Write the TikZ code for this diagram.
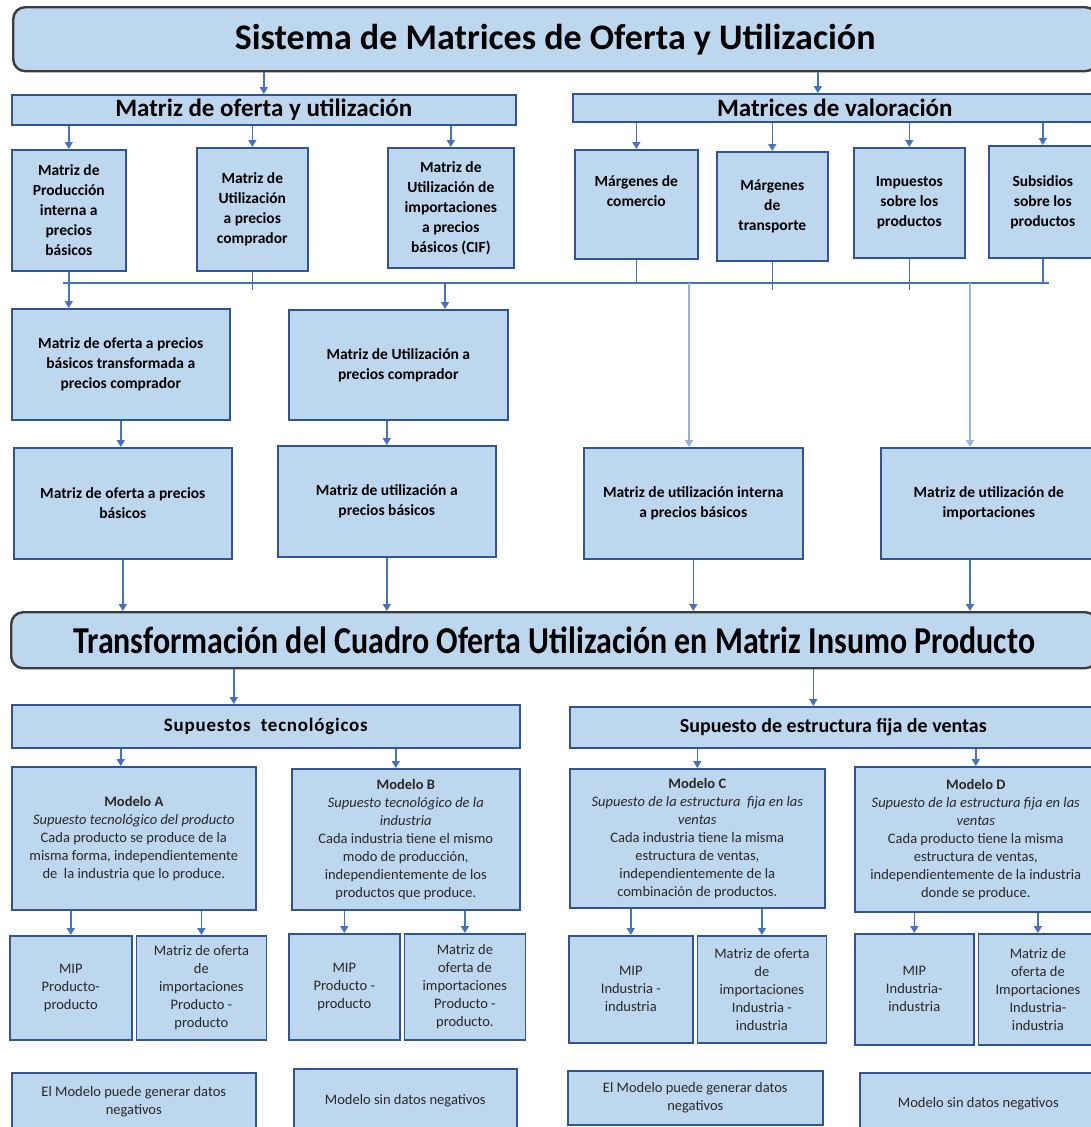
\documentclass[tikz,border=0pt]{standalone}
\usepackage{fontspec}
\setmainfont{Carlito}
\newfontfamily\narrowfont[FakeStretch=0.84]{Carlito}
\usepackage{xcolor}
\usepackage{tikz}
\usetikzlibrary{positioning, shapes, arrows.meta}

\definecolor{boxfill}{RGB}{189,215,238}
\definecolor{boxline}{RGB}{47,85,151}
\definecolor{arrowblue}{RGB}{68,114,196}
\definecolor{fadeblue}{RGB}{150,180,226}
\definecolor{titleline}{RGB}{60,60,60}
\definecolor{textgray}{RGB}{40,40,40}

\begin{document}
\begin{tikzpicture}[x=1pt, y=-1pt, >={Triangle[length=7pt, width=8pt]},
    box/.style={draw=boxline, fill=boxfill, line width=1.6pt, anchor=north west, inner sep=0pt, align=center},
    boldbox/.style={box, font=\fontsize{15.5}{20}\selectfont\bfseries},
    plainbox/.style={box, text=textgray, font=\fontsize{14.5}{18}\selectfont},
    title/.style={box, draw=titleline, line width=2.4pt, rounded corners=12pt},
    header/.style={box, font=\fontsize{25}{30}\selectfont\bfseries},
    link/.style={draw=arrowblue, line width=1.6pt},
    arr/.style={link, ->}]

    \useasboundingbox (0,0) rectangle (1091,1127);
    \clip (0,0) rectangle (1091,1127);

    % Main title
    \node[title, minimum width=1084pt, minimum height=64pt, font=\fontsize{36}{40}\selectfont\bfseries] (title1) at (12,6) {Sistema de Matrices de Oferta y Utilización};

    % Headers
    \node[header, minimum width=504pt, minimum height=30pt] (hdrL) at (11,94) {Matriz de oferta y utilización};
    \node[header, minimum width=524pt, minimum height=28pt] (hdrR) at (572,93) {Matrices de valoración};

    % Supply and use matrices
    \node[boldbox, minimum width=114pt, minimum height=121pt] (b1) at (11,149) {Matriz de\\Producción\\interna a\\precios\\básicos};
    \node[boldbox, minimum width=111pt, minimum height=123pt] (b2) at (196,147) {Matriz de\\Utilización\\a precios\\comprador};
    \node[boldbox, minimum width=126pt, minimum height=120pt] (b3) at (387,147) {Matriz de\\Utilización de\\importaciones\\a precios\\básicos (CIF)};

    % Valuation matrices
    \node[boldbox, minimum width=123pt, minimum height=109pt] (b4) at (574,149) {Márgenes de\\comercio\\[6pt]};
    \node[boldbox, minimum width=111pt, minimum height=109pt] (b5) at (716,151) {Márgenes\\de\\transporte};
    \node[boldbox, minimum width=111pt, minimum height=110pt] (b6) at (853,147) {Impuestos\\sobre los\\productos};
    \node[boldbox, minimum width=108pt, minimum height=112pt] (b7) at (988,145) {Subsidios\\sobre los\\productos};

    % Purchaser prices
    \node[boldbox, minimum width=218pt, minimum height=111pt] (c1) at (11,308) {Matriz de oferta a precios\\básicos transformada a\\precios comprador};
    \node[boldbox, minimum width=219pt, minimum height=110pt] (c2) at (288,309) {Matriz de Utilización a\\precios comprador};

    % Basic prices
    \node[boldbox, minimum width=218pt, minimum height=111pt] (d1) at (13,447) {Matriz de oferta a precios\\básicos};
    \node[boldbox, minimum width=218pt, minimum height=111pt] (d2) at (277,445) {Matriz de utilización a\\precios básicos};
    \node[boldbox, minimum width=219pt, minimum height=111pt] (d3) at (583,447) {Matriz de utilización interna\\a precios básicos};
    \node[boldbox, minimum width=216pt, minimum height=111pt] (d4) at (880,447) {Matriz de utilización de\\importaciones};

    % Second title
    \node[title, minimum width=1086pt, minimum height=56pt, font=\fontsize{38}{42}\narrowfont\bfseries] (title2) at (10,611) {Transformación del Cuadro Oferta Utilización en Matriz Insumo Producto};

    % Assumptions
    \node[box, minimum width=508pt, minimum height=43pt, font=\fontsize{19}{24}\selectfont\bfseries\addfontfeature{LetterSpace=4}] (e1) at (11,704) {Supuestos \ tecnológicos};
    \node[box, minimum width=527pt, minimum height=41pt, font=\fontsize{20}{24}\selectfont\bfseries] (e2) at (569,706) {Supuesto de estructura fija de ventas};

    % Models
    \node[plainbox, minimum width=244pt, minimum height=143pt] (f1) at (11,766) {\textbf{Modelo A}\\\textit{Supuesto tecnológico del producto}\\Cada producto se produce de la\\misma forma, independientemente\\de \ la industria que lo produce.};
    \node[plainbox, minimum width=228pt, minimum height=141pt] (f2) at (291,768) {\textbf{Modelo B}\\\textit{Supuesto tecnológico de la}\\\textit{industria}\\Cada industria tiene el mismo\\modo de producción,\\independientemente de los\\productos que produce.};
    \node[plainbox, minimum width=255pt, minimum height=139pt] (f3) at (569,768) {\textbf{Modelo C}\\\textit{Supuesto de la estructura \ fija en las}\\\textit{ventas}\\Cada industria tiene la misma\\estructura de ventas,\\independientemente de la\\combinación de productos.};
    \node[plainbox, minimum width=242pt, minimum height=145pt] (f4) at (854,766) {\textbf{Modelo D}\\\textit{Supuesto de la estructura fija en las}\\\textit{ventas}\\Cada producto tiene la misma\\estructura de ventas,\\independientemente de la industria\\donde se produce.};

    % Resulting matrices
    \node[plainbox, minimum width=122pt, minimum height=104pt] (g1a) at (9,935) {MIP\\Producto-\\producto};
    \node[plainbox, minimum width=130pt, minimum height=104pt, anchor=west, right=3pt of g1a] (g1b) {Matriz de oferta\\de\\importaciones\\Producto -\\producto};
    \node[plainbox, minimum width=111pt, minimum height=106pt] (g2a) at (288,933) {MIP\\Producto -\\producto};
    \node[plainbox, minimum width=121pt, minimum height=106pt, anchor=west, right=3pt of g2a] (g2b) {Matriz de\\oferta de\\importaciones\\Producto -\\producto.};
    \node[plainbox, minimum width=124pt, minimum height=107pt] (g3a) at (568,935) {MIP\\Industria -\\industria};
    \node[plainbox, minimum width=129pt, minimum height=107pt, anchor=west, right=3pt of g3a] (g3b) {Matriz de oferta\\de\\importaciones\\Industria -\\industria};
    \node[plainbox, minimum width=119pt, minimum height=111pt] (g4a) at (854,933) {MIP\\Industria-\\industria};
    \node[plainbox, minimum width=119pt, minimum height=111pt, anchor=west, right=3pt of g4a] (g4b) {Matriz de\\oferta de\\Importaciones\\Industria-\\industria};

    % Notes
    \node[plainbox, minimum width=244pt, minimum height=58pt] (h1) at (11,1072) {El Modelo puede generar datos\\negativos};
    \node[plainbox, minimum width=223pt, minimum height=64pt] (h2) at (293,1068) {Modelo sin datos negativos};
    \node[plainbox, minimum width=255pt, minimum height=54pt] (h3) at (567,1070) {El Modelo puede generar datos\\negativos};
    \node[plainbox, minimum width=237pt, minimum height=62pt] (h4) at (859,1072) {Modelo sin datos negativos};

    % Connections: title to headers
    \draw[arr] (title1.south -| hdrL.north) -- (hdrL.north);
    \draw[arr] ([xshift=-17pt]hdrR.north |- title1.south) -- ([xshift=-17pt]hdrR.north);

    % Connections: headers to matrices
    \foreach \b in {b1,b2,b3}
        \draw[arr] (hdrL.south -| \b.north) -- (\b.north);
    \foreach \b in {b4,b5,b6,b7}
        \draw[arr] (hdrR.south -| \b.north) -- (\b.north);

    % Collecting line
    \coordinate (busL) at (63,283);
    \coordinate (busR) at (1049,283);
    \coordinate (tapC) at (445,283);
    \coordinate (tapD3) at (689,283);
    \coordinate (tapD4) at (970,283);
    \draw[link] (busL) -- (busR);
    \foreach \b in {b2,b5,b6}
        \draw[link] (\b.south) -- ([yshift=-7pt]\b.south |- busL);
    \foreach \b in {b4,b7}
        \draw[link] (\b.south) -- (\b.south |- busL);

    % Connections: line to purchaser and basic prices
    \draw[arr] (b1.south) -- (b1.south |- c1.north);
    \draw[arr] (tapC) -- (tapC |- c2.north);
    \draw[arr, draw=fadeblue] (tapD3) -- (tapD3 |- d3.north);
    \draw[arr, draw=fadeblue] (tapD4) -- (tapD4 |- d4.north);
    \draw[arr] (c1.south) -- (c1.south |- d1.north);
    \draw[arr] (d2.north |- c2.south) -- (d2.north);

    % Connections: basic prices to second title
    \foreach \d in {d1,d2,d3}
        \draw[arr] (\d.south) -- (\d.south |- title2.north);
    \draw[arr] (tapD4 |- d4.south) -- (tapD4 |- title2.north);

    % Connections: second title to assumptions
    \draw[arr] ([xshift=-32pt]e1.north |- title2.south) -- ([xshift=-32pt]e1.north);
    \draw[arr] ([xshift=-20pt]e2.north |- title2.south) -- ([xshift=-20pt]e2.north);

    % Connections: assumptions to models
    \draw[arr] ([xshift=-13pt]f1.north |- e1.south) -- ([xshift=-13pt]f1.north);
    \draw[arr] ([xshift=-10pt]f2.north |- e1.south) -- ([xshift=-10pt]f2.north);
    \draw[arr] (e2.south -| f3.north) -- (f3.north);
    \draw[arr] (e2.south -| f4.north) -- (f4.north);

    % Connections: models to matrices
    \foreach \f/\g in {f1/g1a, f1/g1b, f2/g2a, f2/g2b, f3/g3a, f3/g3b, f4/g4a, f4/g4b}
        \draw[arr] (\f.south -| \g.north) -- (\g.north);

\end{tikzpicture}
\end{document}
